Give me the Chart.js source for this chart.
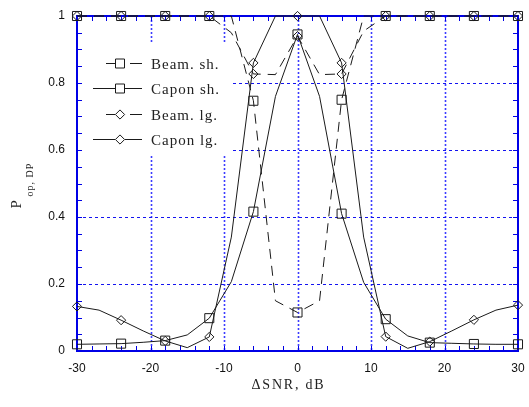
<!DOCTYPE html>
<html>
<head>
<meta charset="utf-8">
<script src="https://cdn.jsdelivr.net/npm/chart.js@4.4.0/dist/chart.umd.min.js"></script>
<style>
html, body { margin: 0; padding: 0; background: #fff; }
#wrap { width: 529px; height: 407px; }
</style>
</head>
<body>
<div id="wrap"><canvas id="myChart" width="529" height="407"></canvas></div>
<script>
// dSNR grid (dB), markers sit on every second point
var snr = [-30,-27,-24,-21,-18,-15,-12,-9,-6,-3,0,3,6,9,12,15,18,21,24,27,30];
var beam_sh  = [1,1,1,1,1,1,1,1,0.747,0.15,0.115,0.15,0.75,1,1,1,1,1,1,1,1];
var capon_sh = [0.02,0.021,0.022,0.026,0.031,0.048,0.098,0.207,0.416,0.76,0.945,0.76,0.41,0.205,0.095,0.045,0.025,0.023,0.021,0.02,0.02];
var beam_lg  = [1,1,1,1,1,1,1,0.95,0.827,0.825,0.94,0.825,0.827,0.955,1,1,1,1,1,1,1];
var capon_lg = [0.133,0.122,0.092,0.06,0.03,0.01,0.042,0.34,0.86,1,1,1,0.86,0.34,0.043,0.008,0.028,0.06,0.093,0.122,0.137];
var series_names = ["Beam. sh.", "Capon sh.", "Beam. lg.", "Capon lg."];
var x_ticks = [-30,-20,-10,0,10,20,30];
var y_ticks = [0,0.2,0.4,0.6,0.8,1];
var x_title = "\u0394SNR, dB";
var y_title = "P";
var y_title_sub = "op, DP";

var ink = '#1a1a1a';
var blue = '#0000e6';

function pts(vals) {
    return snr.map(function(x, i) { return {x: x, y: vals[i]}; });
}
function marks(r) {
    return snr.map(function(x) { return x % 6 === 0 ? r : 0; });
}
function serie(name, vals, dashed, style, r, order) {
    return {
        label: name,
        data: pts(vals),
        borderColor: ink,
        borderWidth: 1,
        borderDash: dashed ? [10, 7] : [],
        pointStyle: style,
        pointRadius: marks(r),
        pointHoverRadius: marks(r),
        pointBorderColor: ink,
        pointBackgroundColor: 'rgba(0,0,0,0)',
        pointBorderWidth: 1,
        tension: 0,
        fill: false,
        clip: false,
        order: order
    };
}
function plain(v) { return String(+Number(v).toFixed(2)); }

// grid, frame, inward ticks, white box behind the legend
var framePlugin = {
    id: 'frame',
    beforeDatasetsDraw: function(chart) {
        var ctx = chart.ctx, a = chart.chartArea;
        var xs = chart.scales.x, ys = chart.scales.y;
        ctx.save();
        ctx.lineWidth = 1.6;
        ctx.strokeStyle = 'rgba(50,50,255,0.95)';
        ctx.setLineDash([2, 2]);
        x_ticks.forEach(function(v) {
            if (v <= xs.min || v >= xs.max) return;
            var px = Math.round(xs.getPixelForValue(v)) + 0.5;
            ctx.beginPath(); ctx.moveTo(px, a.top); ctx.lineTo(px, a.bottom); ctx.stroke();
        });
        ctx.lineWidth = 1;
        ctx.strokeStyle = '#1414f0';
        ctx.setLineDash([3, 3]);
        y_ticks.forEach(function(v) {
            if (v <= ys.min || v >= ys.max) return;
            var py = Math.round(ys.getPixelForValue(v)) + 0.5;
            ctx.beginPath(); ctx.moveTo(a.left, py); ctx.lineTo(a.right, py); ctx.stroke();
        });
        ctx.setLineDash([]);
        // legend background
        ctx.fillStyle = '#fff';
        ctx.fillRect(a.left + 1, a.top + 26, 152, 114);
        // frame
        ctx.strokeStyle = blue;
        ctx.lineWidth = 2;
        ctx.strokeRect(a.left, a.top, a.right - a.left, a.bottom - a.top);
        // minor + major ticks, pointing inwards
        ctx.lineWidth = 1;
        var nx = Math.round((xs.max - xs.min) / 2);
        for (var i = 0; i <= nx; i++) {
            var px = Math.round(xs.getPixelForValue(xs.min + 2 * i)) + 0.5;
            ctx.beginPath();
            ctx.moveTo(px, a.bottom); ctx.lineTo(px, a.bottom - 5);
            ctx.moveTo(px, a.top); ctx.lineTo(px, a.top + 5);
            ctx.stroke();
        }
        var ny = Math.round((ys.max - ys.min) / 0.05);
        for (var j = 0; j <= ny; j++) {
            var py = Math.round(ys.getPixelForValue(ys.min + 0.05 * j)) + 0.5;
            ctx.beginPath();
            ctx.moveTo(a.left, py); ctx.lineTo(a.left + 5, py);
            ctx.moveTo(a.right, py); ctx.lineTo(a.right - 5, py);
            ctx.stroke();
        }
        ctx.restore();
    },
    afterDatasetsDraw: function(chart) {
        var ctx = chart.ctx, a = chart.chartArea;
        ctx.save();
        chart.data.datasets.forEach(function(ds, i) {
            var y = Math.round(a.top + 47 + i * 25.3) + 0.5;
            var cx = a.left + 43;
            ctx.strokeStyle = ink;
            ctx.lineWidth = 1;
            ctx.beginPath();
            if (ds.borderDash.length) {
                ctx.moveTo(a.left + 29, y); ctx.lineTo(a.left + 38, y);
                ctx.moveTo(a.left + 53, y); ctx.lineTo(a.left + 65, y);
            } else {
                ctx.moveTo(a.left + 16, y); ctx.lineTo(cx - 5, y);
                ctx.moveTo(cx + 5, y); ctx.lineTo(a.left + 65, y);
            }
            ctx.stroke();
            ctx.beginPath();
            if (ds.pointStyle === 'rect') {
                ctx.rect(cx - 4.5, y - 4.5, 9, 9);
            } else {
                ctx.moveTo(cx, y - 4.6); ctx.lineTo(cx + 4.6, y);
                ctx.lineTo(cx, y + 4.6); ctx.lineTo(cx - 4.6, y);
                ctx.closePath();
            }
            ctx.stroke();
            ctx.fillStyle = '#222';
            ctx.font = '15px "Liberation Serif", "Times New Roman", serif';
            ctx.letterSpacing = '1px';
            ctx.textAlign = 'left';
            ctx.textBaseline = 'alphabetic';
            ctx.fillText(ds.label, a.left + 74, y + 5);
        });
        ctx.restore();
    },
    afterDraw: function(chart) {
        var ctx = chart.ctx, a = chart.chartArea;
        ctx.save();
        ctx.fillStyle = '#222';
        ctx.textBaseline = 'alphabetic';
        ctx.font = '14px "Liberation Serif", "Times New Roman", serif';
        ctx.letterSpacing = '1.8px';
        ctx.textAlign = 'center';
        ctx.fillText(x_title, (a.left + a.right) / 2 - 9, 389);
        // y title with subscript, rotated
        ctx.translate(20.5, (a.top + a.bottom) / 2 + 25);
        ctx.rotate(-Math.PI / 2);
        ctx.textAlign = 'left';
        ctx.font = '15px "Liberation Serif", "Times New Roman", serif';
        ctx.letterSpacing = '1px';
        ctx.fillText(y_title, 0, 0);
        ctx.font = '10px "Liberation Serif", "Times New Roman", serif';
        ctx.letterSpacing = '1px';
        ctx.fillText(y_title_sub, 12, 12);
        ctx.restore();
    }
};

var ctx = document.getElementById('myChart').getContext('2d');
var chart = new Chart(ctx, {
    type: 'line',
    data: {
        datasets: [
            serie(series_names[0], beam_sh, true, 'rect', 6.4, 1),
            serie(series_names[1], capon_sh, false, 'rect', 6.4, 1),
            serie(series_names[2], beam_lg, true, 'rectRot', 4.6, 0),
            serie(series_names[3], capon_lg, false, 'rectRot', 4.6, 0)
        ]
    },
    options: {
        responsive: false,
        animation: false,
        events: [],
        layout: { padding: { left: 0, right: 11, top: 16, bottom: 0 } },
        plugins: { legend: { display: false }, tooltip: { enabled: false } },
        scales: {
            x: {
                type: 'linear',
                min: -30, max: 30,
                afterBuildTicks: function(s) { s.ticks = x_ticks.map(function(v) { return {value: v}; }); },
                afterFit: function(s) { s.height = 56; s.paddingLeft = 0; s.paddingRight = 0; },
                grid: { display: false, drawTicks: false },
                border: { display: false },
                ticks: { padding: 10, color: '#111', callback: plain, font: { family: '"Liberation Sans", Arial, sans-serif', size: 12 } }
            },
            y: {
                type: 'linear',
                min: 0, max: 1,
                afterBuildTicks: function(s) { s.ticks = y_ticks.map(function(v) { return {value: v}; }); },
                afterFit: function(s) { s.width = 77; s.paddingTop = 0; s.paddingBottom = 0; },
                grid: { display: false, drawTicks: false },
                border: { display: false },
                ticks: { padding: 12, color: '#111', callback: plain, font: { family: '"Liberation Sans", Arial, sans-serif', size: 12 } }
            }
        }
    },
    plugins: [framePlugin]
});
</script>
</body>
</html>
